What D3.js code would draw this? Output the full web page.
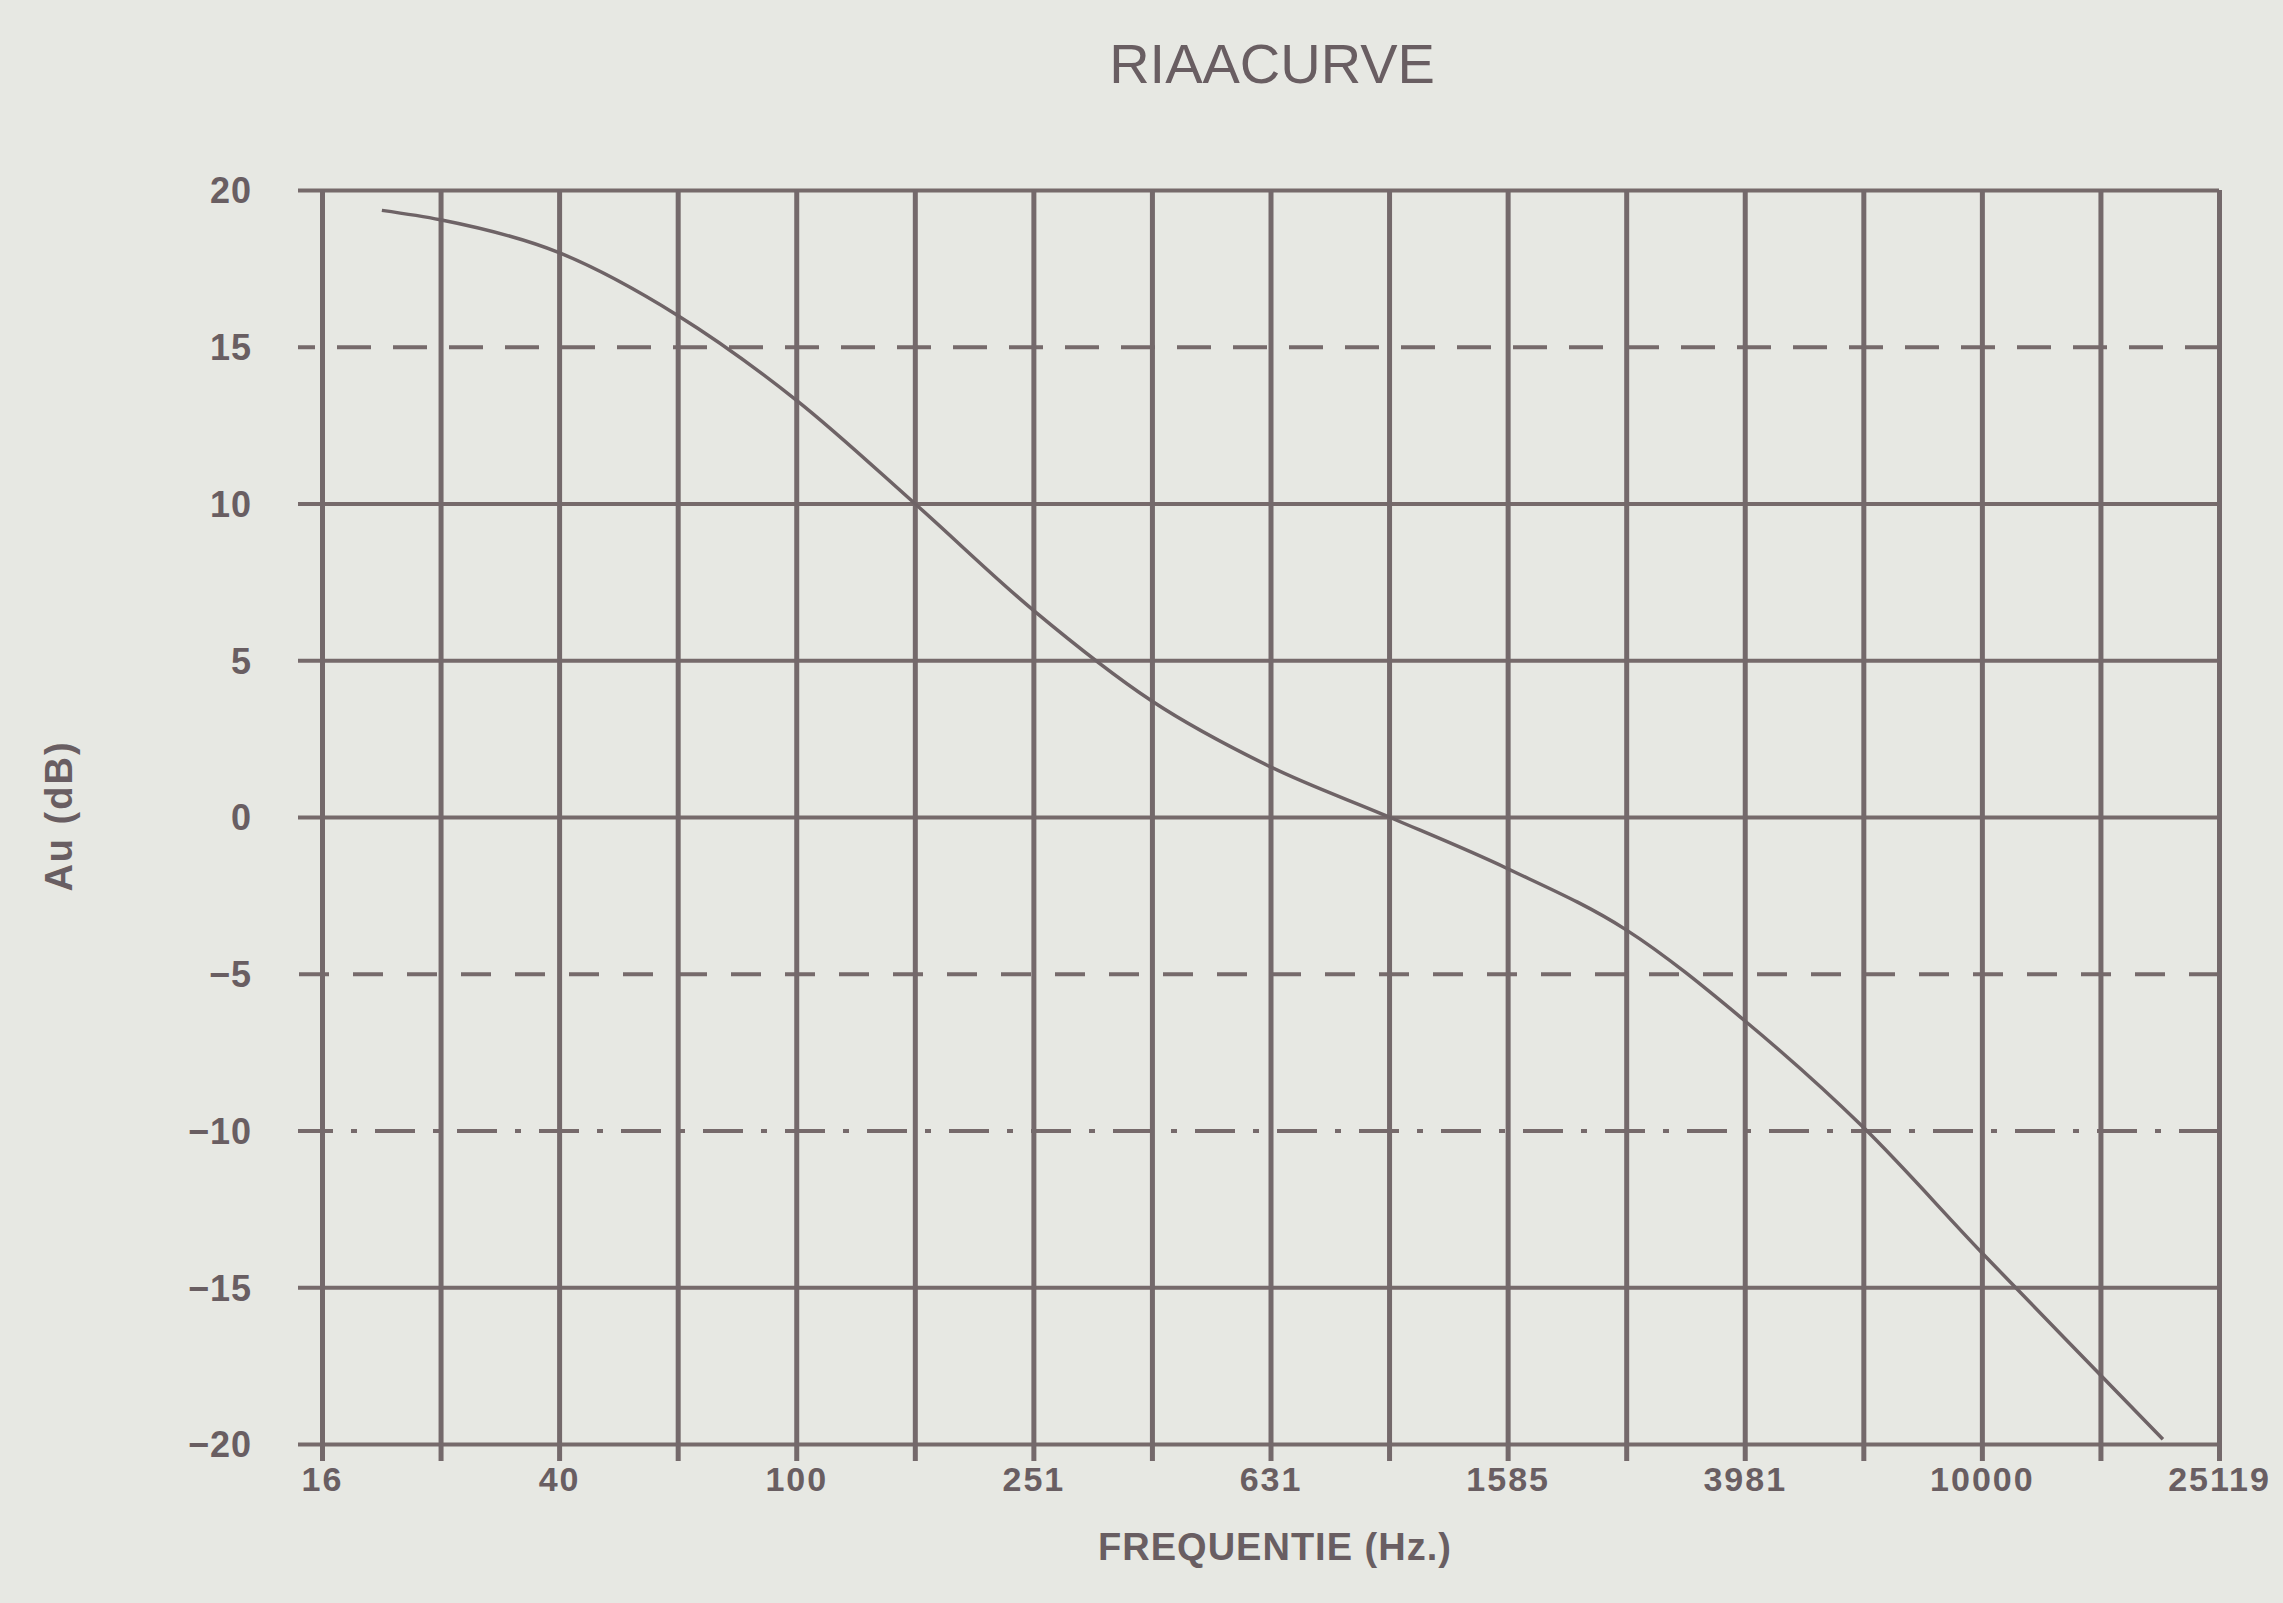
<!DOCTYPE html>
<html>
<head>
<meta charset="utf-8">
<script src="https://cdn.jsdelivr.net/npm/d3@7/dist/d3.min.js"></script>
<style>
  html, body { margin: 0; padding: 0; background: #e7e8e3; }
  svg { display: block; }
  text { font-family: "Liberation Sans", Arial, sans-serif; fill: #695e62; }
</style>
</head>
<body>
<svg id="chart" width="2283" height="1603"></svg>
<script>
// ---- data ----
const title = "RIAACURVE";
const xTitle = "FREQUENTIE (Hz.)";
const yTitle = "Au (dB)";

// grid frequencies: 10^1.2 ... 10^4.4 in 0.2-decade steps
const gridFreqs = [15.85, 25.12, 39.81, 63.1, 100, 158.5, 251.2, 398.1, 631, 1000, 1585, 2512, 3981, 6310, 10000, 15849, 25119];
const xTickValues = [15.85, 39.81, 100, 251.2, 631, 1585, 3981, 10000, 25119];
const xTickLabels = ["16", "40", "100", "251", "631", "1585", "3981", "10000", "25119"];
const yTickValues = [20, 15, 10, 5, 0, -5, -10, -15, -20];
const yTickLabels = ["20", "15", "10", "5", "0", "\u22125", "\u221210", "\u221215", "\u221220"];

// RIAA curve
const curveFreq = [20, 25.1, 39.8, 63.1, 100, 158.5, 251, 398, 631, 1000, 1585, 2512, 3981, 6310, 10000, 15849, 20200];
const curveGain = [19.35, 19.05, 18.0, 16.0, 13.3, 10.0, 6.6, 3.7, 1.6, 0.0, -1.65, -3.6, -6.5, -9.9, -13.9, -17.8, -19.85];

// ---- layout ----
const svg = d3.select("#chart");
const L = 322, R = 2219, T = 190, B = 1444;
const x = d3.scaleLog().domain([15.85, 25119]).range([L, R]);
const y = d3.scaleLinear().domain([-20, 20]).range([B, T]);

// horizontal grid style per value
const hDash = { "15": "34,22", "-5": "30,24", "-10": "40,18,6,18" };

// horizontal grid (from x=298 to the right edge)
const gy = svg.append("g").attr("transform", `translate(${R},0)`);
gy.call(d3.axisLeft(y).tickValues(yTickValues).tickSize(R - 298).tickFormat(""));
gy.select(".domain").remove();
gy.selectAll(".tick line")
  .attr("stroke", "#766a6b")
  .attr("stroke-width", 4)
  .attr("stroke-dasharray", d => hDash[String(d)] || null);

// vertical grid with ticks below the axis
const gx = svg.append("g").attr("transform", `translate(0,${T})`);
gx.call(d3.axisBottom(x).tickValues(gridFreqs).tickSize(1461 - T).tickFormat(""));
gx.select(".domain").remove();
gx.selectAll(".tick line")
  .attr("stroke", "#74696b")
  .attr("stroke-width", 5);

// x tick labels
const gxl = svg.append("g").attr("transform", `translate(0,1491)`);
gxl.call(d3.axisBottom(x).tickValues(xTickValues).tickSize(0)
  .tickFormat((d, i) => xTickLabels[i]));
gxl.select(".domain").remove();
gxl.selectAll(".tick text")
  .attr("y", 0).attr("dy", 0)
  .style("font-size", "34px").style("font-weight", "bold")
  .style("letter-spacing", "2px")
  .attr("fill", "#695e62");

// y tick labels
const gyl = svg.append("g").attr("transform", `translate(252,0)`);
gyl.call(d3.axisLeft(y).tickValues(yTickValues).tickSize(0)
  .tickFormat((d, i) => yTickLabels[i]));
gyl.select(".domain").remove();
gyl.selectAll(".tick text")
  .attr("x", 0).attr("dy", "0.36em")
  .style("font-size", "36px").style("font-weight", "bold")
  .style("letter-spacing", "1px")
  .attr("fill", "#695e62");

// curve
const line = d3.line()
  .x((d, i) => x(curveFreq[i]))
  .y(d => y(d))
  .curve(d3.curveMonotoneX);
svg.append("path")
  .datum(curveGain)
  .attr("d", line)
  .attr("fill", "none")
  .attr("stroke", "#6e6366")
  .attr("stroke-width", 3.5);

// titles
svg.append("text")
  .attr("x", 1272).attr("y", 83)
  .attr("text-anchor", "middle")
  .style("font-size", "56px")
  .text(title);

svg.append("text")
  .attr("x", 1275).attr("y", 1560)
  .attr("text-anchor", "middle")
  .style("font-size", "38px").style("font-weight", "bold")
  .style("letter-spacing", "1px")
  .text(xTitle);

svg.append("text")
  .attr("transform", "translate(72,816) rotate(-90)")
  .attr("text-anchor", "middle")
  .style("font-size", "38px").style("font-weight", "bold")
  .style("letter-spacing", "2px")
  .text(yTitle);
</script>
</body>
</html>
